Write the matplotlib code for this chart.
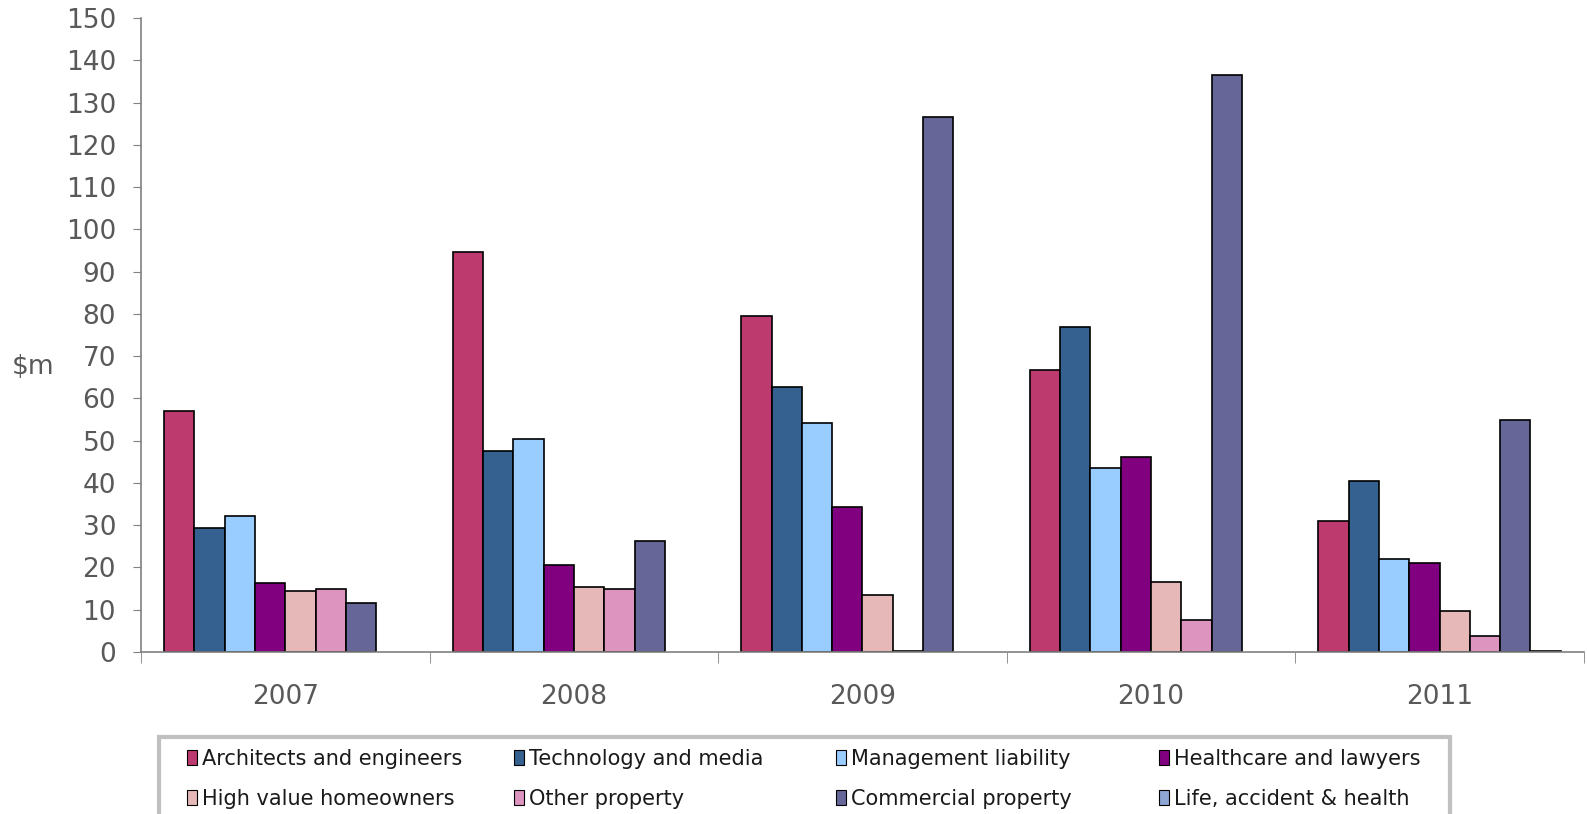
import numpy as np
import matplotlib.pyplot as plt
from matplotlib.patches import Patch, Rectangle

years = ['2007', '2008', '2009', '2010', '2011']
series = ['Architects and engineers', 'Technology and media', 'Management liability',
          'Healthcare and lawyers', 'High value homeowners', 'Other property',
          'Commercial property', 'Life, accident & health']
colors = ['#BC3A6E', '#34618F', '#99CCFF', '#800080', '#E6B8B7', '#DD94BF', '#666699', '#8EA6D4']

architects = [57.0, 94.6, 79.5, 66.8, 31.0]
technology = [29.3, 47.5, 62.6, 77.0, 40.4]
management = [32.3, 50.3, 54.2, 43.6, 22.0]
healthcare = [16.3, 20.6, 34.3, 46.1, 21.0]
homeowners = [14.5, 15.3, 13.5, 16.6, 9.7]
other_property = [15.0, 15.0, 0.3, 7.5, 3.8]
commercial = [11.5, 26.2, 126.5, 136.5, 55.0]
life = [0.0, 0.0, 0.0, 0.0, 0.3]

values = [architects, technology, management, healthcare, homeowners,
          other_property, commercial, life]

text_col = '#595959'
W, H = 1587, 814
fig = plt.figure(figsize=(W / 100, H / 100), dpi=100)
ax = fig.add_axes([0.0889, 0.199, 0.9091, 0.7787])

n = len(series)
w = 0.84 / n
x = np.arange(len(years))
for i, (vals, c) in enumerate(zip(values, colors)):
    pos = x - 0.42 + w * (i + 0.5)
    for p, v in zip(pos, vals):
        if v > 0:
            ax.bar(p, v, width=w, color=c, edgecolor='black', linewidth=1.2)

ax.set_xlim(-0.5, len(years) - 0.5)
ax.set_ylim(0, 150)
ax.set_yticks(np.arange(0, 151, 10))
ax.set_xticks(x)
ax.set_xticklabels(years)
ax.set_xticks(np.arange(-0.5, len(years)), minor=True)
ax.tick_params(axis='x', which='major', length=0, pad=23, labelsize=19, labelcolor=text_col)
ax.tick_params(axis='x', which='minor', length=8, color='#808080', direction='out')
ax.tick_params(axis='y', length=6, color='#808080', labelsize=19, labelcolor=text_col, pad=12)
for s in ['top', 'right']:
    ax.spines[s].set_visible(False)
for s in ['left', 'bottom']:
    ax.spines[s].set_color('#808080')
    ax.spines[s].set_linewidth(1.2)
ax.set_ylabel('$m', rotation=0, fontsize=19, color=text_col, va='center', ha='center')
ax.yaxis.set_label_coords(-0.075, 0.449)

# legend: frame + 4 equal-width columns
fig.patches.append(Rectangle((159 / W, -0.01), 1291 / W, 0.0946 + 0.01, transform=fig.transFigure,
                             fill=False, edgecolor='#C0C0C0', linewidth=3))
handles = [Patch(facecolor=c, edgecolor='black', linewidth=0.8) for c in colors]
col_x = [187, 514, 836, 1159]
for k, cx in enumerate(col_x):
    leg = fig.legend([handles[k], handles[k + 4]], [series[k], series[k + 4]],
                     loc='center left', bbox_to_anchor=(cx / W, 0.043),
                     fontsize=15, frameon=False, borderpad=0, borderaxespad=0,
                     handlelength=0.5, handleheight=0.75, handletextpad=0.2,
                     labelspacing=0.95)
    for t in leg.get_texts():
        t.set_color('#1a1a1a')

fig.savefig('out.png', dpi=100)
